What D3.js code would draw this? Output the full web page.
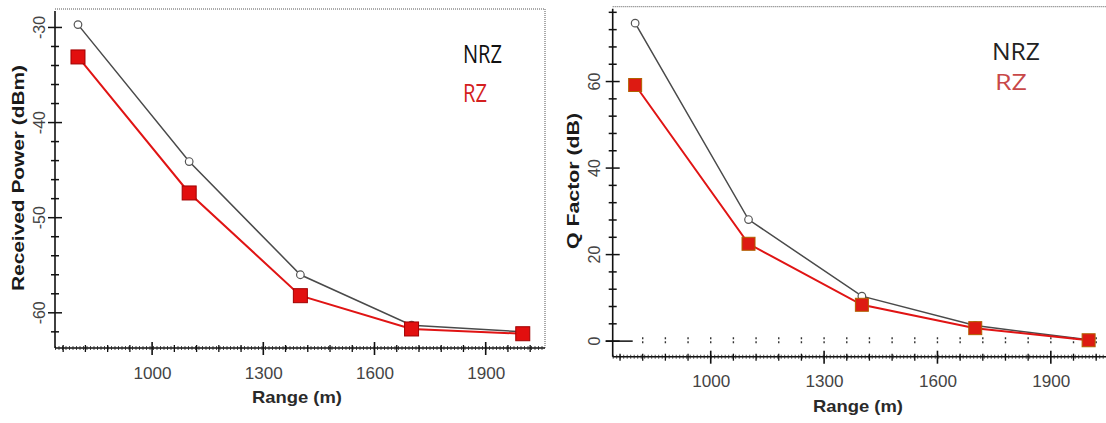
<!DOCTYPE html>
<html><head><meta charset="utf-8">
<script src="https://cdn.jsdelivr.net/npm/d3@7"></script>
<style>html,body{margin:0;padding:0;background:#fff;}svg{display:block;}</style>
</head><body>
<svg id="chart" width="1106" height="423"></svg>
<script>
// ---- data ----
const ranges = [800, 1100, 1400, 1700, 2000];
const powerNRZ = [-29.7, -44.1, -56.0, -61.3, -62.0];
const powerRZ  = [-33.1, -47.4, -58.2, -61.7, -62.2];
const qNRZ = [73.5, 28.1, 10.4, 3.6, 0.3];
const qRZ  = [59.2, 22.5, 8.4, 3.0, 0.2];
const xTickLabels = [1000, 1300, 1600, 1900];
const powerTicks = [-30, -40, -50, -60];
const qTicks = [0, 20, 40, 60];
const seriesNames = ["NRZ", "RZ"];

const svg = d3.select("#chart");

function panel(cfg) {
  const g = svg.append("g");
  const x = d3.scaleLinear().domain(cfg.xDomain).range(cfg.xRange);
  const y = d3.scaleLinear().domain(cfg.yDomain).range(cfg.yRange);
  const x0 = cfg.xRange[0], x1 = cfg.xRange[1], yTop = cfg.yRange[1], yBot = cfg.yRange[0];

  // dotted frame (top, right)
  g.append("line").attr("x1", x0).attr("x2", x1).attr("y1", yTop).attr("y2", yTop)
    .attr("stroke", "#555").attr("stroke-width", 1).attr("stroke-dasharray", "1,1");
  if (cfg.rightBorder) {
    g.append("line").attr("x1", x1).attr("x2", x1).attr("y1", yTop).attr("y2", yBot)
      .attr("stroke", "#555").attr("stroke-width", 1).attr("stroke-dasharray", "1,1");
  }

  // x axis via d3 axis (major labels)
  const xAxis = d3.axisBottom(x).tickValues(cfg.xTicks).tickSize(0).tickPadding(0).tickFormat(d3.format("d"));
  const xa = g.append("g").attr("transform", `translate(0,${yBot})`).call(xAxis);
  xa.select(".domain").remove();
  xa.selectAll("text").attr("dy", null).attr("y", cfg.xLabelDy)
    .attr("font-family", "Liberation Sans, Arial, sans-serif").attr("font-size", 17)
    .attr("fill", "#444").attr("textLength", 38).attr("lengthAdjust", "spacingAndGlyphs");

  // axis lines
  g.append("line").attr("x1", x0).attr("x2", x1).attr("y1", yBot).attr("y2", yBot)
    .attr("stroke", "#111").attr("stroke-width", 1.6);
  g.append("line").attr("x1", x0).attr("x2", x1).attr("y1", yBot).attr("y2", yBot)
    .attr("stroke", "#222").attr("stroke-width", 4).attr("stroke-dasharray", "1,2.5").attr("opacity", 0.8);
  g.append("line").attr("x1", x0).attr("x2", x0).attr("y1", yTop + 2).attr("y2", yBot)
    .attr("stroke", "#111").attr("stroke-width", 1.6);

  // x minor/major ticks
  const xMinor = d3.range(760, cfg.xDomain[1], 60);
  g.selectAll(".xt").data(xMinor).join("line")
    .attr("x1", d => x(d)).attr("x2", d => x(d))
    .attr("y1", d => yBot - (cfg.xTicks.includes(d) ? 6 : 3))
    .attr("y2", d => yBot + (cfg.xTicks.includes(d) ? 7 : 4))
    .attr("stroke", "#111").attr("stroke-width", d => cfg.xTicks.includes(d) ? 1.6 : 1.3);

  // y ticks
  const yMinor = d3.range(cfg.yMinorStart, cfg.yDomain[1], cfg.yMinorStep);
  g.selectAll(".yt").data(yMinor).join("line")
    .attr("x1", d => x0 - (cfg.yTicks.includes(d) ? 7 : 4))
    .attr("x2", d => x0 + (cfg.yTicks.includes(d) ? 7 : 4))
    .attr("y1", d => y(d)).attr("y2", d => y(d))
    .attr("stroke", "#111").attr("stroke-width", 1.5);

  // y tick labels (rotated)
  g.selectAll(".yl").data(cfg.yTicks).join("text")
    .attr("transform", d => `translate(${cfg.yLabelX},${y(d)}) rotate(-90)`)
    .attr("text-anchor", "middle").attr("dy", "0.35em")
    .attr("font-family", "Liberation Sans, Arial, sans-serif").attr("font-size", 16)
    .attr("fill", "#444").text(d => d);

  // zero line marks (Q factor panel)
  if (cfg.zeroMarks) {
    g.append("line").attr("x1", x0 - 7).attr("x2", x0 + 20).attr("y1", y(0)).attr("y2", y(0))
      .attr("stroke", "#111").attr("stroke-width", 1.5);
    g.selectAll(".zm").data(d3.range(820, cfg.xDomain[1], 60)).join("line")
      .attr("x1", d => x(d)).attr("x2", d => x(d))
      .attr("y1", y(0) - 4).attr("y2", y(0) + 4)
      .attr("stroke", "#333").attr("stroke-width", 1.4).attr("stroke-dasharray", "2,2");
  }

  // axis titles
  g.append("text").attr("x", cfg.xTitle[0]).attr("y", cfg.xTitle[1])
    .attr("text-anchor", "middle").attr("font-family", "Liberation Sans, Arial, sans-serif")
    .attr("font-weight", "bold").attr("font-size", 17).attr("fill", "#2a2a2a")
    .attr("textLength", 90).attr("lengthAdjust", "spacingAndGlyphs").text("Range (m)");
  g.append("text").attr("transform", `translate(${cfg.yTitle[0]},${cfg.yTitle[1]}) rotate(-90)`)
    .attr("text-anchor", "middle").attr("font-family", "Liberation Sans, Arial, sans-serif")
    .attr("font-weight", "bold").attr("font-size", 16).attr("fill", "#1a1a1a")
    .attr("textLength", cfg.yTitle[3]).attr("lengthAdjust", "spacingAndGlyphs").text(cfg.yTitle[2]);

  // lines
  const line = d3.line().x((d, i) => x(ranges[i])).y(d => y(d));
  g.append("path").datum(cfg.nrz).attr("d", line).attr("fill", "none")
    .attr("stroke", "#4a4a4a").attr("stroke-width", 1.5);
  g.append("path").datum(cfg.rz).attr("d", line).attr("fill", "none")
    .attr("stroke", "#e01414").attr("stroke-width", 2);

  // NRZ markers
  g.selectAll(".nm").data(cfg.nrz).join("circle")
    .attr("cx", (d, i) => x(ranges[i])).attr("cy", d => y(d)).attr("r", 3.8)
    .attr("fill", "#fff").attr("stroke", "#555").attr("stroke-width", 1.2);
  // RZ markers
  const s = cfg.sq;
  g.selectAll(".rm").data(cfg.rz).join("rect")
    .attr("x", (d, i) => x(ranges[i]) - s / 2).attr("y", d => y(d) - s / 2)
    .attr("width", s).attr("height", s)
    .attr("fill", cfg.sqFill).attr("stroke", cfg.sqStroke).attr("stroke-width", 1);

  // legend
  cfg.legend.forEach((L, i) => {
    g.append("text").attr("x", L.x).attr("y", L.y)
      .attr("font-family", "Open Sans, Noto Sans, sans-serif").attr("font-size", L.size)
      .attr("fill", L.color).attr("textLength", L.w).attr("lengthAdjust", "spacingAndGlyphs")
      .text(seriesNames[i]);
  });
}

panel({
  xDomain: [738, 2060], xRange: [55, 545],
  yDomain: [-63.7, -28.06], yRange: [348, 9],
  xTicks: xTickLabels, yTicks: powerTicks, yMinorStart: -62, yMinorStep: 2,
  xLabelDy: 31, yLabelX: 39, rightBorder: true, zeroMarks: false,
  xTitle: [297, 403], yTitle: [24, 178, "Received Power (dBm)", 226],
  nrz: powerNRZ, rz: powerRZ, sq: 14, sqFill: "#e20f0f", sqStroke: "#a00000",
  legend: [{x: 463, y: 63, size: 25, w: 39, color: "#111"},
           {x: 463, y: 102, size: 25, w: 24, color: "#d42020"}]
});

panel({
  xDomain: [740.6, 2046], xRange: [612.7, 1106],
  yDomain: [-3.6, 77.3], yRange: [356.7, 6.7],
  xTicks: xTickLabels, yTicks: qTicks, yMinorStart: 0, yMinorStep: 4,
  xLabelDy: 30, yLabelX: 594, rightBorder: false, zeroMarks: true,
  xTitle: [858, 412], yTitle: [579, 181, "Q Factor (dB)", 136],
  nrz: qNRZ, rz: qRZ, sq: 13, sqFill: "#dd1a12", sqStroke: "#b06000",
  legend: [{x: 992, y: 60, size: 23, w: 48, color: "#222"},
           {x: 995, y: 90, size: 21, w: 32, color: "#c84848"}]
});
</script>
</body></html>
